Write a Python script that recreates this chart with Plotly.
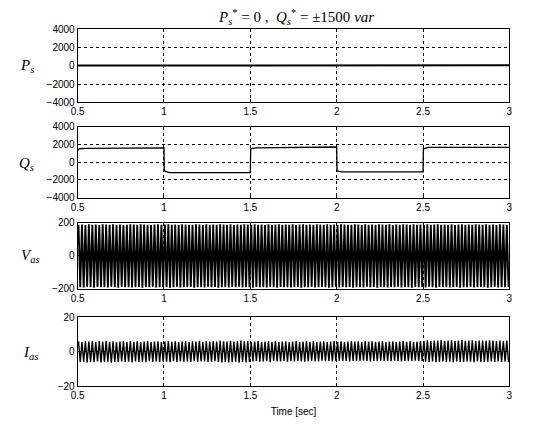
import numpy as np
import plotly.graph_objects as go

# ---------------- data ----------------
x_ticks = [0.5, 1.0, 1.5, 2.0, 2.5, 3.0]
x_ticktext = ["0.5", "1", "1.5", "2", "2.5", "3"]

# P_s (W): essentially zero
p_t = [0.5, 1.0, 1.5, 2.0, 2.5, 3.0]
p_v = [20, 30, 10, 30, 50, 60]

# Q_s (var): square steps
q_t = [0.5, 0.51, 0.55, 1.0, 1.002, 1.03, 1.5, 1.502, 1.53, 2.0, 2.002, 2.03, 2.5, 2.502, 2.53, 3.0]
q_v = [1300, 1500, 1550, 1600, -1000, -1200, -1200, 1500, 1600, 1700, -1000, -1100, -1100, 1500, 1650, 1650]

# V_as (V): 50 Hz oscillation, positive and negative peaks per cycle
v_hi = [188, 190, 186, 191, 189, 190, 187, 192, 190, 189,
        191, 188, 190, 186, 189, 192, 190, 188, 191, 190,
        189, 187, 190, 191, 188, 190, 192, 189, 190, 187,
        191, 190, 188, 189, 192, 190, 187, 191, 189, 190,
        188, 192, 190, 189, 191, 187, 190, 188, 192, 190,
        189, 191, 188, 190, 187, 191, 189, 190, 192, 188,
        190, 189, 191, 187, 190, 192, 188, 190, 189, 191,
        190, 188, 192, 189, 190, 187, 191, 190, 188, 189,
        192, 190, 187, 191, 189, 190, 188, 192, 190, 189,
        191, 187, 190, 188, 192, 190, 189, 191, 188, 190,
        187, 191, 189, 190, 192, 188, 190, 189, 191, 187,
        190, 192, 188, 190, 189, 191, 190, 188, 192, 189,
        190, 187, 191, 190, 188]
v_lo = [-189, -191, -187, -190, -192, -188, -190, -189, -191, -187,
        -190, -192, -188, -190, -189, -191, -190, -188, -192, -189,
        -190, -187, -191, -190, -188, -189, -192, -190, -187, -191,
        -189, -190, -188, -192, -190, -189, -191, -187, -190, -188,
        -192, -190, -189, -191, -188, -190, -187, -191, -189, -190,
        -192, -188, -190, -189, -191, -187, -190, -192, -188, -190,
        -189, -191, -190, -188, -192, -189, -190, -187, -191, -190,
        -188, -189, -192, -190, -187, -191, -189, -190, -188, -192,
        -190, -189, -191, -187, -190, -188, -192, -190, -189, -191,
        -188, -190, -187, -191, -189, -190, -192, -188, -190, -189,
        -191, -187, -190, -192, -188, -190, -189, -191, -190, -188,
        -192, -189, -190, -187, -191, -190, -188, -189, -192, -190,
        -187, -191, -189, -190, -188]

# I_as (A): 50 Hz oscillation, peaks per cycle
i_hi = [6.0, 5.5, 6.2, 5.8, 6.1, 5.6, 6.0, 5.9, 6.3, 5.7,
        6.0, 5.4, 5.8, 6.1, 5.5, 6.0, 5.7, 6.2, 5.6, 5.9,
        6.1, 5.5, 5.8, 6.0, 5.6, 5.9, 6.2, 5.7, 6.0, 5.5,
        5.8, 6.1, 5.6, 6.0, 5.9, 6.3, 5.7, 6.0, 5.8, 6.2,
        5.9, 6.4, 6.0, 5.8, 6.3, 5.9, 6.1, 6.5, 6.0, 6.2,
        5.6, 5.9, 6.1, 5.5, 5.8, 6.0, 5.7, 6.1, 5.6, 5.9,
        6.0, 5.5, 5.8, 6.2, 5.6, 5.9, 6.0, 5.7, 6.1, 5.5,
        5.8, 6.0, 5.6, 5.9, 6.1, 5.7, 6.0, 5.5, 5.8, 6.2,
        5.9, 6.0, 5.6, 6.1, 5.8, 6.0, 5.7, 5.9, 6.2, 5.6,
        5.9, 6.0, 5.5, 5.8, 6.1, 5.7, 6.0, 5.6, 5.9, 6.1,
        6.3, 6.6, 6.2, 6.5, 6.4, 6.7, 6.3, 6.5, 6.6, 6.2,
        6.4, 6.7, 6.3, 6.5, 6.6, 6.2, 6.4, 6.5, 6.3, 6.6,
        6.4, 6.2, 6.5, 6.3, 6.4]
i_lo = [-6.0, -5.8, -6.3, -5.9, -6.1, -5.7, -6.2, -6.0, -5.8, -6.4,
        -5.9, -6.1, -5.6, -6.0, -5.8, -6.2, -5.7, -6.0, -5.9, -6.1,
        -5.5, -5.9, -5.7, -6.0, -5.6, -5.8, -6.1, -5.5, -5.9, -5.7,
        -5.8, -5.6, -6.0, -5.5, -5.9, -5.7, -5.6, -6.0, -5.8, -5.5,
        -6.0, -6.3, -5.9, -6.2, -6.1, -5.8, -6.4, -6.0, -6.2, -5.9,
        -5.7, -5.4, -5.8, -5.6, -5.5, -5.9, -5.3, -5.7, -5.6, -5.4,
        -5.8, -5.5, -5.7, -5.4, -5.6, -5.8, -5.5, -5.3, -5.7, -5.6,
        -5.2, -5.5, -5.3, -5.6, -5.4, -5.2, -5.5, -5.3, -5.6, -5.4,
        -5.3, -5.5, -5.2, -5.4, -5.6, -5.3, -5.5, -5.2, -5.4, -5.3,
        -5.5, -5.2, -5.4, -5.6, -5.3, -5.5, -5.4, -5.2, -5.5, -5.3,
        -5.8, -6.0, -5.7, -6.1, -5.9, -5.6, -6.0, -5.8, -6.1, -5.7,
        -5.9, -6.0, -5.6, -5.8, -6.1, -5.7, -5.9, -6.0, -5.8, -5.6,
        -6.0, -5.7, -5.9, -5.8, -6.0]

freq = 50.0
t_start = 0.5


def zigzag(hi, lo):
    t, y = [], []
    for k, (a, b) in enumerate(zip(hi, lo)):
        t += [t_start + (k + 0.25) / freq, t_start + (k + 0.75) / freq]
        y += [a, b]
    return t, y


v_t, v_y = zigzag(v_hi, v_lo)
i_t, i_y = zigzag(i_hi, i_lo)

# ---------------- figure ----------------
W, H = 533, 434
x_dom = [72 / W, 512 / W]
panels = [  # (top px, bottom px)
    (24, 99), (124, 197), (223, 291), (320, 391)
]
y_ranges = [[-4000, 4000], [-4000, 4000], [-200, 200], [-20, 20]]
y_ticks = [[-4000, -2000, 0, 2000, 4000], [-4000, -2000, 0, 2000, 4000], [-200, 0, 200], [-20, 0, 20]]

fig = go.Figure()
fig.add_trace(go.Scatter(x=p_t, y=p_v, mode="lines", line=dict(color="black", width=2), xaxis="x", yaxis="y"))
fig.add_trace(go.Scatter(x=q_t, y=q_v, mode="lines", line=dict(color="black", width=1.3), xaxis="x2", yaxis="y2"))
fig.add_trace(go.Scatter(x=v_t, y=v_y, mode="lines", line=dict(color="black", width=1.9), xaxis="x3", yaxis="y3"))
fig.add_trace(go.Scatter(x=i_t, y=i_y, mode="lines", line=dict(color="black", width=1.4), xaxis="x4", yaxis="y4"))

tick_font = dict(family="Liberation Sans, Arial", size=10, color="black")
layout = dict(
    width=W, height=H, autosize=False,
    margin=dict(l=0, r=0, t=0, b=0),
    paper_bgcolor="white", plot_bgcolor="white",
    showlegend=False,
)
for i, (top, bot) in enumerate(panels):
    sfx = "" if i == 0 else str(i + 1)
    layout["xaxis" + sfx] = dict(
        domain=x_dom, range=[0.5, 3.0], anchor="y" + sfx,
        tickvals=x_ticks, ticktext=x_ticktext, tickfont=tick_font,
        ticks="inside", ticklen=3, tickcolor="black",
        showline=True, linecolor="black", linewidth=1, mirror=True,
        showgrid=True, gridcolor="black", gridwidth=1, griddash="3px,3px",
        zeroline=False,
    )
    layout["yaxis" + sfx] = dict(
        domain=[1 - bot / H, 1 - top / H], range=y_ranges[i], anchor="x" + sfx,
        tickvals=y_ticks[i], tickfont=tick_font,
        ticks="inside", ticklen=3, tickcolor="black",
        showline=True, linecolor="black", linewidth=1, mirror=True,
        showgrid=True, gridcolor="black", gridwidth=1, griddash="3px,3px",
        zeroline=False,
    )
layout["xaxis4"]["title"] = dict(text="Time [sec]", font=dict(family="Liberation Sans, Arial", size=10, color="black"), standoff=7)

serif = "Liberation Serif, Times New Roman"
ann = [
    dict(text="<i>P<sub>s</sub></i>", x=20 / W, y=1 - 62 / H),
    dict(text="<i>Q<sub>s</sub></i>", x=20 / W, y=1 - 162 / H),
    dict(text="<i>V<sub>as</sub></i>", x=24 / W, y=1 - 257 / H),
    dict(text="<i>I<sub>as</sub></i>", x=24 / W, y=1 - 357 / H),
]
annotations = []
for a in ann:
    annotations.append(dict(text=a["text"], x=a["x"], y=a["y"], xref="paper", yref="paper",
                            xanchor="center", yanchor="middle",
                            showarrow=False, font=dict(family=serif, size=15, color="black")))
annotations.append(dict(
    text="<i>P</i><sub><i>s</i></sub><sup>*</sup> = 0 ,  <i>Q</i><sub><i>s</i></sub><sup>*</sup> = ±1500 <i>var</i>",
    x=295 / W, y=1 - 11 / H, xref="paper", yref="paper", showarrow=False,
    xanchor="center", yanchor="middle",
    font=dict(family=serif, size=15, color="black")))
layout["annotations"] = annotations

fig.update_layout(**layout)
fig.write_html("out.html", config={"displayModeBar": False},
               post_script="document.body.style.margin='0';")
